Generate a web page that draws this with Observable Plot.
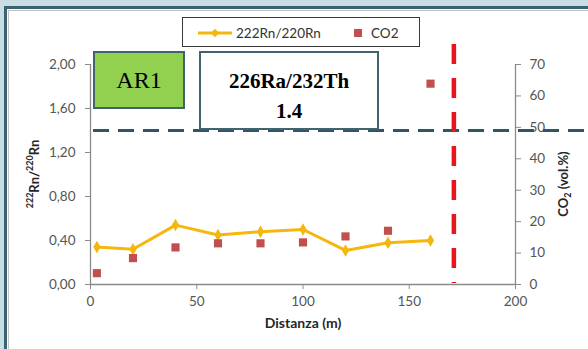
<!DOCTYPE html>
<html>
<head>
<meta charset="utf-8">
<script src="https://cdn.jsdelivr.net/npm/d3@7"></script>
<script src="https://cdn.jsdelivr.net/npm/@observablehq/plot@0.6"></script>
<style>
  html, body { margin: 0; padding: 0; }
  body { width: 588px; height: 349px; overflow: hidden; background: #c9dde4; }
  #wrap { position: relative; width: 588px; height: 349px; overflow: hidden; font-family: Lato, "Open Sans", sans-serif; }
  #panel { position: absolute; left: 4px; top: 6px; width: 600px; height: 360px; background: #fff;
           border-left: 3px solid #3b6272; border-top: 3px solid #3b6272; }
  #panel::after { content: ""; position: absolute; left: 1px; top: 1px; right: 0; bottom: 0;
           border-left: 1px solid #c4c4c4; border-top: 1px solid #c4c4c4; }
  #plot { position: absolute; left: 0; top: 0; }
  .box { position: absolute; box-sizing: border-box; border: 2px solid #41636f; text-align: center;
         font-family: "Liberation Serif", "Times New Roman", serif; color: #000; }
  #ar1 { left: 93px; top: 51px; width: 92px; height: 58px; background: #92d050; font-size: 24px; line-height: 54px; }
  #ratio { left: 199px; top: 51px; width: 180px; height: 79px; background: #fff; font-size: 21px; font-weight: bold;
           line-height: 30px; padding-top: 13px; }
  #legend { position: absolute; left: 182px; top: 17px; width: 238px; height: 30px; box-sizing: border-box;
            border: 1px solid #3a3a3a; background: #fff; color: #333; }
  #legend svg { position: absolute; left: 0; top: 0; }
  .ytitle { position: absolute; font-weight: bold; font-size: 13px; color: #262626; white-space: nowrap; }
  .ytitle sup { font-size: 9px; }
  .ytitle sub { font-size: 9px; }
  #yl { left: 33px; top: 174px; transform: translate(-50%, -50%) rotate(-90deg); }
  #yr { left: 564px; top: 184px; transform: translate(-50%, -50%) rotate(-90deg); }
</style>
</head>
<body>
<div id="wrap">
  <div id="panel"></div>
  <div id="plot"></div>
  <div id="legend"></div>
  <div class="box" id="ar1">AR1</div>
  <div class="box" id="ratio">226Ra/232Th<br>1.4</div>
  <div class="ytitle" id="yl"><sup>222</sup>Rn/<sup>220</sup>Rn</div>
  <div class="ytitle" id="yr">CO<sub>2</sub> (vol.%)</div>
</div>
<script>
// Distance along the profile (m)
const distance = [3, 20, 40, 60, 80, 100, 120, 140, 160];
// 222Rn/220Rn activity ratio
const rnRatio = [0.34, 0.32, 0.54, 0.45, 0.48, 0.50, 0.31, 0.38, 0.40];
// CO2 concentration in soil gas (vol.%)
const co2 = [3.6, 8.4, 11.8, 13.1, 13.1, 13.4, 15.3, 17.1, 63.9];

// Axis ticks
const xTicks = [0, 50, 100, 150, 200];
const rnTicks = [0, 0.4, 0.8, 1.2, 1.6, 2.0];
const co2Ticks = [0, 10, 20, 30, 40, 50, 60, 70];

// Reference levels: 226Ra/232Th ratio and fault position (m)
const raThRatio = [1.4];
const faultDistance = [171];

const rnMax = 2;
const co2Max = 70;
const co2ToRn = v => v * rnMax / co2Max; // secondary axis mapped onto the primary scale

const rows = distance.map((d, i) => ({ d, rn: rnRatio[i], co2: co2ToRn(co2[i]) }));

const axisColor = "#8a8a8a";
const labelColor = "#555555";
const rnColor = "#f5b60d";
const co2Color = "#c0504d";

const chart = Plot.plot({
  width: 588,
  height: 349,
  marginLeft: 90,
  marginRight: 73,
  marginTop: 64,
  marginBottom: 65,
  x: { domain: [0, 200] },
  y: { domain: [0, rnMax] },
  style: { background: "transparent", fontFamily: "Lato, 'Open Sans', sans-serif", fontSize: "13.5px", color: labelColor },
  marks: [
    Plot.ruleY([0], { stroke: axisColor, strokeWidth: 1.3 }),
    Plot.ruleX([0], { stroke: axisColor, strokeWidth: 1.3 }),
    Plot.ruleX([200], { stroke: axisColor, strokeWidth: 1.3 }),
    Plot.axisX({ ticks: xTicks, tickSize: 5, tickPadding: 7, stroke: axisColor, label: null, fill: labelColor }),
    Plot.axisY({ ticks: rnTicks, tickSize: 5, tickPadding: 10, stroke: axisColor, label: null, fill: labelColor,
                 tickFormat: d => d.toFixed(2).replace(".", ",") }),
    Plot.axisY(co2Ticks.map(co2ToRn), { anchor: "right", tickSize: 5, tickPadding: 9, stroke: axisColor, label: null,
                 fill: labelColor, tickFormat: d => Math.round(d * co2Max / rnMax) }),
    Plot.text(["Distanza (m)"], { frameAnchor: "bottom", dy: 43, fontWeight: "bold", fill: "#262626", fontSize: 14 }),
    // 226Ra/232Th reference level
    Plot.ruleY(raThRatio, { stroke: "#2f5566", strokeWidth: 3, strokeDasharray: "16,9", insetLeft: 3, insetRight: -80 }),
    // fault trace
    Plot.ruleX(faultDistance, { stroke: "#e8141e", strokeWidth: 4.5, strokeDasharray: "20,14", insetTop: -20, insetBottom: 1 }),
    Plot.line(rows, { x: "d", y: "rn", stroke: rnColor, strokeWidth: 3 }),
    Plot.dot(rows, { x: "d", y: "rn", symbol: "diamond", r: 3.8, fill: rnColor, stroke: null }),
    Plot.dot(rows, { x: "d", y: "co2", symbol: "square", r: 4.6, fill: co2Color, stroke: null })
  ]
});
document.getElementById("plot").appendChild(chart);

// Legend
const legend = d3.select("#legend").append("svg").attr("width", 238).attr("height", 30)
  .style("font-family", "Lato, 'Open Sans', sans-serif");
legend.append("line").attr("x1", 15).attr("x2", 49).attr("y1", 15).attr("y2", 15)
  .attr("stroke", rnColor).attr("stroke-width", 3);
legend.append("path").attr("d", d3.symbol(d3.symbolDiamond2, 45)()).attr("transform", "translate(32,15)").attr("fill", rnColor);
legend.append("text").attr("x", 53).attr("y", 20).attr("fill", "#333").attr("font-size", 13.5).text("222Rn/220Rn");
legend.append("rect").attr("x", 171).attr("y", 11).attr("width", 8).attr("height", 8).attr("fill", co2Color);
legend.append("text").attr("x", 188).attr("y", 20).attr("fill", "#333").attr("font-size", 13.5).text("CO2");
</script>
</body>
</html>
